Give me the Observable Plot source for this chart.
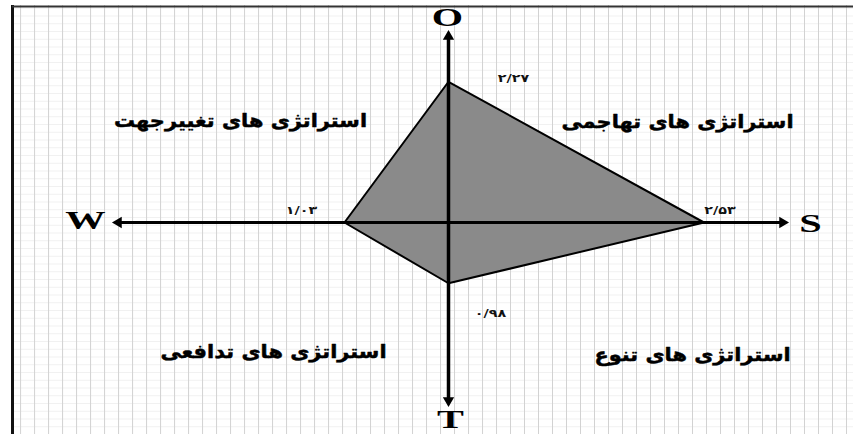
<!DOCTYPE html>
<html><head><meta charset="utf-8">
<script src="https://cdn.jsdelivr.net/npm/d3@7"></script>
<script src="https://cdn.jsdelivr.net/npm/@observablehq/plot@0.6"></script>
<style>html,body{margin:0;padding:0;background:#fff;overflow:hidden}</style>
</head><body><div id="chart"></div>
<script>
// ---- data ----
const axisNames = ["S", "O", "W", "T"];
const scores = [2.53, 2.27, 1.03, 0.98];
const scoreLabels = ["۲/۵۳", "۲/۲۷", "۱/۰۳", "۰/۹۸"];
const quadrantLabels = ["استراتژی های تهاجمی", "استراتژی های تغییرجهت", "استراتژی های تدافعی", "استراتژی های تنوع"];

// ---- structure: direction of each axis (S right, O up, W left, T down) ----
const dirX = [1, 0, -1, 0];
const dirY = [0, 1, 0, -1];
const vertices = scores.map((v, i) => ({axis: axisNames[i], x: dirX[i] * v, y: dirY[i] * v}));

// ---- layout ----
const W = 853, H = 434, mL = 12, mT = 5, mR = 0, mB = 0;
const originX = 448, kx = 101, originY = 222, ky = 62;
const xDomain = [(mL - originX) / kx, (W - mR - originX) / kx];
const yDomain = [-(H - mB - originY) / ky, (originY - mT) / ky];

const letterLayout = {
  S: {frameAnchor: "right", dx: -43, dy: 1},
  O: {frameAnchor: "top", dx: -1, dy: 12.5},
  W: {frameAnchor: "left", dx: 73, dy: -2},
  T: {frameAnchor: "bottom", dx: 2, dy: -15}
};
const headLayout = {
  S: {frameAnchor: "right", dx: -71, dy: 0, rotate: 90},
  O: {frameAnchor: "top", dx: 0, dy: 31, rotate: 0},
  W: {frameAnchor: "left", dx: 106, dy: 0, rotate: -90},
  T: {frameAnchor: "bottom", dx: 0, dy: -34, rotate: 180}
};
const valueOffsets = [[16, -12], [65, -3], [-43, -12], [42, 30]];
const quadLayout = [
  {frameAnchor: "top-right", dx: -176, dy: 116},
  {frameAnchor: "top-left", dx: 228, dy: 115},
  {frameAnchor: "bottom-left", dx: 261, dy: -83},
  {frameAnchor: "bottom-right", dx: -161, dy: -80}
];

const persian = "DejaVu Sans, sans-serif";
const serif = "Liberation Serif, Times New Roman, serif";

const marks = [];
// graph-paper background
marks.push(Plot.ruleY(d3.range(yDomain[0], yDomain[1], 0.125), {stroke: "#f1f1f1", strokeWidth: 1}));
marks.push(Plot.ruleX(d3.range(xDomain[0] + 0.08, xDomain[1], 0.1386), {stroke: "#d2d2d2", strokeWidth: 1}));
// border (left + top)
marks.push(Plot.ruleX([xDomain[0]], {stroke: "#111", strokeWidth: 3}));
marks.push(Plot.ruleY([yDomain[1]], {stroke: "#333", strokeWidth: 2, dy: 1}));
// the strategic position polygon
marks.push(Plot.line(vertices, {x: "x", y: "y", curve: "linear-closed", fill: "#8a8a8a", stroke: "#000", strokeWidth: 2}));
// axes
marks.push(Plot.ruleX([0], {stroke: "#000", strokeWidth: 3.5, insetTop: 31, insetBottom: 34}));
marks.push(Plot.ruleY([0], {stroke: "#000", strokeWidth: 3, insetLeft: 106, insetRight: 71}));
axisNames.forEach((name, i) => {
  const h = headLayout[name];
  const pos = dirX[i] !== 0 ? {y: () => 0} : {x: () => 0};
  marks.push(Plot.dot([name], {...pos, symbol: "triangle", r: 4.2, fill: "#000", stroke: "none",
    rotate: h.rotate, frameAnchor: h.frameAnchor, dx: h.dx, dy: h.dy}));
  const l = letterLayout[name];
  marks.push(Plot.text([name], {...pos, text: d => d, frameAnchor: l.frameAnchor, dx: l.dx, dy: l.dy,
    textAnchor: "middle", lineAnchor: "middle", fontSize: 26, fontWeight: "bold", fontFamily: serif,
    fill: "#000", ariaDescription: "letters"}));
});
// value labels
vertices.forEach((v, i) => {
  marks.push(Plot.text([v], {x: "x", y: "y", text: () => scoreLabels[i], dx: valueOffsets[i][0], dy: valueOffsets[i][1],
    textAnchor: "middle", lineAnchor: "middle", fontSize: 11, fontWeight: "bold", fontFamily: persian,
    fill: "#111", ariaDescription: "values"}));
});
// quadrant labels
quadrantLabels.forEach((q, i) => {
  const l = quadLayout[i];
  marks.push(Plot.text([q], {text: d => d, frameAnchor: l.frameAnchor, dx: l.dx, dy: l.dy,
    textAnchor: "middle", lineAnchor: "middle", fontSize: 19, fontWeight: "bold", fontFamily: persian,
    fill: "#000", stroke: "#000", strokeWidth: 0.5, ariaDescription: "quads"}));
});

const chart = Plot.plot({
  width: W, height: H,
  marginLeft: mL, marginTop: mT, marginRight: mR, marginBottom: mB,
  x: {domain: xDomain, axis: null},
  y: {domain: yDomain, axis: null},
  style: {background: "#fff", overflow: "visible"},
  marks
});

const stretch = {letters: 1.55, values: 1.3, quads: 1.1};
Object.entries(stretch).forEach(([k, s]) => {
  chart.querySelectorAll(`g[aria-description="${k}"] text`).forEach(t => {
    t.setAttribute("transform", (t.getAttribute("transform") || "") + ` scale(${s},1)`);
  });
});
document.getElementById("chart").appendChild(chart);
</script>
</body></html>
